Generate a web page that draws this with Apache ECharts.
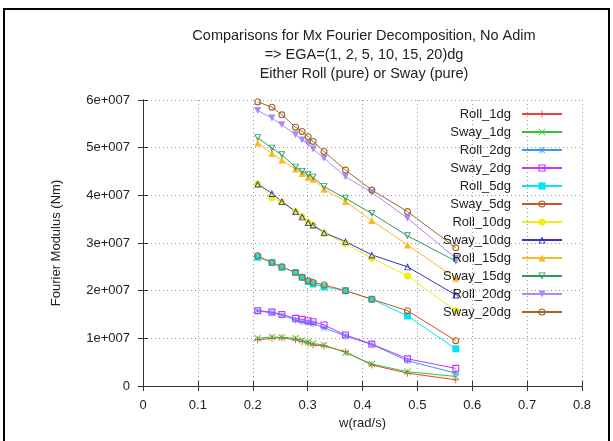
<!DOCTYPE html>
<html>
<head>
<meta charset="utf-8">
<script src="https://cdn.jsdelivr.net/npm/echarts@6/dist/echarts.min.js"></script>
<style>
html,body{margin:0;padding:0;background:#fff;}
#chart{width:613px;height:441px;}
</style>
</head>
<body>
<div id="chart"></div>
<script>
// frequencies w (rad/s)
var w = [0.209, 0.235, 0.253, 0.278, 0.29, 0.301, 0.31, 0.33, 0.369, 0.417, 0.482, 0.57];

// Fourier modulus, in units of 1e7 Nm
var roll1 = [0.97, 1.00, 1.01, 0.97, 0.93, 0.90, 0.86, 0.84, 0.72, 0.44, 0.27, 0.13];
var sway1 = [1.00, 1.03, 1.02, 1.00, 0.96, 0.92, 0.89, 0.86, 0.70, 0.46, 0.30, 0.20];
var roll2 = [1.58, 1.53, 1.49, 1.38, 1.35, 1.33, 1.31, 1.22, 1.05, 0.87, 0.53, 0.27];
var sway2 = [1.58, 1.55, 1.50, 1.42, 1.40, 1.37, 1.35, 1.28, 1.07, 0.88, 0.57, 0.37];
var roll5 = [2.70, 2.59, 2.49, 2.38, 2.28, 2.19, 2.14, 2.08, 2.00, 1.82, 1.47, 0.78];
var sway5 = [2.73, 2.59, 2.50, 2.38, 2.28, 2.21, 2.17, 2.12, 2.00, 1.82, 1.58, 0.95];
var roll10 = [4.24, 3.95, 3.86, 3.66, 3.55, 3.43, 3.37, 3.20, 2.99, 2.68, 2.31, 1.58];
var sway10 = [4.24, 4.04, 3.87, 3.66, 3.55, 3.43, 3.38, 3.22, 3.03, 2.75, 2.50, 1.91];
var roll15 = [5.10, 4.88, 4.74, 4.55, 4.46, 4.38, 4.34, 4.13, 3.87, 3.47, 2.96, 2.26];
var sway15 = [5.21, 4.99, 4.85, 4.59, 4.50, 4.43, 4.38, 4.18, 3.94, 3.62, 3.15, 2.62];
var roll20 = [5.78, 5.62, 5.48, 5.27, 5.16, 5.08, 4.97, 4.78, 4.39, 4.06, 3.52, 2.68];
var sway20 = [5.96, 5.85, 5.69, 5.43, 5.34, 5.23, 5.13, 4.92, 4.53, 4.11, 3.66, 2.90];
var SCALE = 1e7;

var names = ['Roll_1dg', 'Sway_1dg', 'Roll_2dg', 'Sway_2dg', 'Roll_5dg', 'Sway_5dg',
  'Roll_10dg', 'Sway_10dg', 'Roll_15dg', 'Sway_15dg', 'Roll_20dg', 'Sway_20dg'];
var values = [roll1, sway1, roll2, sway2, roll5, sway5, roll10, sway10, roll15, sway15, roll20, sway20];

var colors = ['#f03c3c', '#33c433', '#3399ff', '#cc33ff', '#00e8ee', '#cc5522',
  '#eeee11', '#3333cc', '#ffb820', '#2e9a62', '#aa88ff', '#a0682a'];

// gnuplot-like point types (thin outlines, drawn as filled paths)
var plus = 'path://M0,4.4H10V5.6H0Z M4.4,0H5.6V10H4.4Z';
var cross = 'path://M0.8,0L5,4.2L9.2,0L10,0.8L5.8,5L10,9.2L9.2,10L5,5.8L0.8,10L0,9.2L4.2,5L0,0.8Z';
var star = 'path://M4.5,0H5.5V4.5H10V5.5H5.5V10H4.5V5.5H0V4.5H4.5Z M1.2,0.6L5,4.3L8.8,0.6L9.4,1.2L5.7,5L9.4,8.8L8.8,9.4L5,5.7L1.2,9.4L0.6,8.8L4.3,5L0.6,1.2Z';
var openSquare = 'path://M0,0H10V10H0Z M1.6,1.6V8.4H8.4V1.6Z';
var openCircle = 'path://M5,0A5,5 0 1,1 5,10A5,5 0 1,1 5,0Z M5,1.6A3.4,3.4 0 1,0 5,8.4A3.4,3.4 0 1,0 5,1.6Z';
var openTri = 'path://M5,0L10,10H0Z M5,3.2L1.9,8.8H8.1Z';
var symbols = [plus, cross, star, openSquare, 'rect', openCircle,
  'circle', openTri, 'triangle', openTri, 'triangle', openCircle];
var rotates = [0, 0, 0, 0, 0, 0, 0, 0, 0, 180, 180, 0];

var series = [];
for (var i = 0; i < names.length; i++) {
  var pts = [];
  for (var j = 0; j < w.length; j++) {
    pts.push([w[j], values[i][j] * SCALE]);
  }
  series.push({
    name: names[i],
    type: 'line',
    data: pts,
    symbol: symbols[i],
    symbolRotate: rotates[i],
    symbolSize: 7,
    showAllSymbol: true,
    itemStyle: {color: colors[i], borderWidth: 0},
    lineStyle: {color: colors[i], width: 1},
    emphasis: {disabled: true},
    animation: false
  });
}

var myChart = echarts.init(document.getElementById('chart'));

var font = 'Liberation Sans, Arial, sans-serif';

var option = {
  backgroundColor: '#fff',
  textStyle: {fontFamily: font},
  graphic: [{
    type: 'rect',
    shape: {x: 4, y: 9, width: 605, height: 440},
    style: {fill: 'none', stroke: '#000', lineWidth: 2},
    silent: true
  }],
  title: {
    text: 'Comparisons for Mx Fourier Decomposition, No Adim\n=> EGA=(1, 2, 5, 10, 15, 20)dg\nEither Roll (pure) or Sway (pure)',
    left: 359,
    top: 21,
    textAlign: 'center',
    textStyle: {fontSize: 14.5, fontWeight: 'normal', color: '#222', lineHeight: 19, fontFamily: font}
  },
  legend: {
    orient: 'vertical',
    right: 45,
    top: 102,
    align: 'right',
    itemWidth: 40,
    itemHeight: 9,
    itemGap: 4,
    textStyle: {fontSize: 13, color: '#222', lineHeight: 14, padding: [0, 6, 0, 0], fontFamily: font},
    data: names
  },
  grid: {left: 143, right: 31, top: 100, bottom: 55},
  xAxis: [{
    type: 'value',
    min: 0, max: 0.8, interval: 0.1,
    name: 'w(rad/s)',
    nameLocation: 'middle',
    nameGap: 27,
    nameTextStyle: {fontSize: 13, color: '#222'},
    axisLine: {show: true, lineStyle: {color: '#333', width: 1}},
    axisTick: {show: true, inside: true, length: 5, lineStyle: {color: '#333'}},
    axisLabel: {fontSize: 13, color: '#222', margin: 13},
    splitLine: {show: true, lineStyle: {color: '#999', type: [1, 3], width: 1}}
  }, {
    type: 'value',
    position: 'top',
    min: 0, max: 0.8, interval: 0.1,
    axisLine: {show: true, lineStyle: {color: '#333', width: 1}},
    axisTick: {show: true, inside: true, length: 5, lineStyle: {color: '#333'}},
    axisLabel: {show: false},
    splitLine: {show: false}
  }],
  yAxis: [{
    type: 'value',
    min: 0, max: 6e7, interval: 1e7,
    name: 'Fourier Modulus (Nm)',
    nameLocation: 'middle',
    nameGap: 80,
    nameTextStyle: {fontSize: 13, color: '#222'},
    axisLine: {show: true, lineStyle: {color: '#333', width: 1}},
    axisTick: {show: true, inside: true, length: 5, lineStyle: {color: '#333'}},
    axisLabel: {
      fontSize: 13, color: '#222', margin: 13,
      formatter: function (v) { return v === 0 ? '0' : (v / 1e7) + 'e+007'; }
    },
    splitLine: {show: true, lineStyle: {color: '#999', type: [1, 3], width: 1}}
  }, {
    type: 'value',
    position: 'right',
    min: 0, max: 6e7, interval: 1e7,
    axisLine: {show: true, lineStyle: {color: '#333', width: 1}},
    axisTick: {show: true, inside: true, length: 5, lineStyle: {color: '#333'}},
    axisLabel: {show: false},
    splitLine: {show: false}
  }],
  series: series
};

myChart.setOption(option);
</script>
</body>
</html>
